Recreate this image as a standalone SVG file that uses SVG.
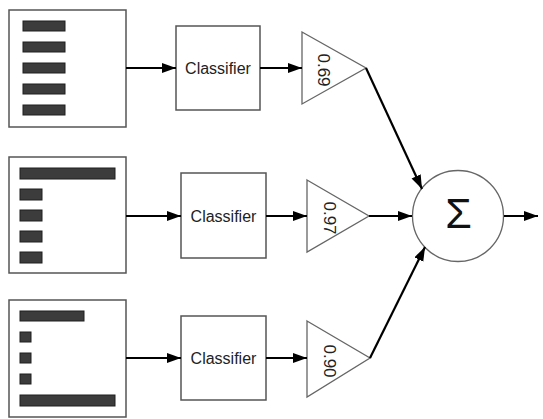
<svg xmlns="http://www.w3.org/2000/svg" width="543" height="419" viewBox="0 0 543 419">
<style>
.box{fill:#fff;stroke:#555;stroke-width:1.5}
.bar{fill:#3c3c3c;stroke:#1e1e1e;stroke-width:1}
.tri{fill:#fff;stroke:#666;stroke-width:1.3}
.lbl{font-family:"Liberation Sans",Arial,sans-serif;font-size:16px;fill:#222;text-anchor:middle}
.w{font-family:"Liberation Sans",Arial,sans-serif;font-size:17px;fill:#222;text-anchor:middle}
.conn line{stroke:#000;stroke-width:2.2;marker-end:url(#ah)}
</style>
<defs>
<marker id="ah" markerUnits="userSpaceOnUse" markerWidth="15" markerHeight="11" refX="14" refY="5" orient="auto">
<path d="M0,0 L14,5 L0,10 z" fill="#000"/>
</marker>
</defs>
<rect width="543" height="419" fill="#fff"/>

<g id="input1">
<rect class="box" x="9" y="10" width="117" height="117"/>
<rect class="bar" x="23" y="21" width="42" height="10"/>
<rect class="bar" x="23" y="42" width="42" height="10"/>
<rect class="bar" x="23" y="63" width="42" height="10"/>
<rect class="bar" x="23" y="84" width="42" height="10"/>
<rect class="bar" x="23" y="105" width="42" height="10"/>
</g>
<g id="input2">
<rect class="box" x="9" y="157" width="117" height="116"/>
<rect class="bar" x="20" y="168" width="95" height="11"/>
<rect class="bar" x="20" y="189" width="22" height="11"/>
<rect class="bar" x="20" y="210" width="22" height="11"/>
<rect class="bar" x="20" y="231" width="22" height="11"/>
<rect class="bar" x="20" y="252" width="22" height="11"/>
</g>
<g id="input3">
<rect class="box" x="9" y="300" width="117" height="117"/>
<rect class="bar" x="20" y="311" width="64" height="10"/>
<rect class="bar" x="20" y="332" width="11" height="10"/>
<rect class="bar" x="20" y="353" width="11" height="10"/>
<rect class="bar" x="20" y="374" width="11" height="10"/>
<rect class="bar" x="20" y="395" width="95" height="11"/>
</g>

<g id="classifier1">
<rect class="box" x="176" y="26" width="84" height="84"/>
<text class="lbl" x="218" y="74">Classifier</text>
</g>
<g id="classifier2">
<rect class="box" x="181" y="173" width="85" height="85"/>
<text class="lbl" x="223.5" y="221.5">Classifier</text>
</g>
<g id="classifier3">
<rect class="box" x="181" y="316" width="85" height="84"/>
<text class="lbl" x="223.5" y="364">Classifier</text>
</g>

<g id="weight1">
<polygon class="tri" points="302,32 366,68 302,104"/>
<text class="w" transform="translate(324,70) rotate(90)" y="6">0.69</text>
</g>
<g id="weight2">
<polygon class="tri" points="307,180 369,216 307,252"/>
<text class="w" transform="translate(330,218) rotate(90)" y="6">0.97</text>
</g>
<g id="weight3">
<polygon class="tri" points="307,321 370,358 307,397"/>
<text class="w" transform="translate(330,361) rotate(90)" y="6">0.90</text>
</g>

<g id="sum">
<circle cx="458" cy="216" r="45.5" fill="#fff" stroke="#666" stroke-width="1.3"/>
<text x="458.5" y="228" font-family="'Liberation Sans',Arial,sans-serif" font-size="43" fill="#111" text-anchor="middle">Σ</text>
</g>

<g id="connectors" class="conn">
<line x1="126" y1="68" x2="176" y2="68"/>
<line x1="260" y1="68" x2="302" y2="68"/>
<line x1="126" y1="216" x2="181" y2="216"/>
<line x1="266" y1="216" x2="307" y2="216"/>
<line x1="126" y1="358" x2="181" y2="358"/>
<line x1="266" y1="358" x2="307" y2="358"/>
<line x1="366" y1="68" x2="422" y2="189"/>
<line x1="369" y1="216" x2="412" y2="216"/>
<line x1="370" y1="358" x2="425" y2="247"/>
<line x1="504" y1="216" x2="538" y2="216"/>
</g>
</svg>
